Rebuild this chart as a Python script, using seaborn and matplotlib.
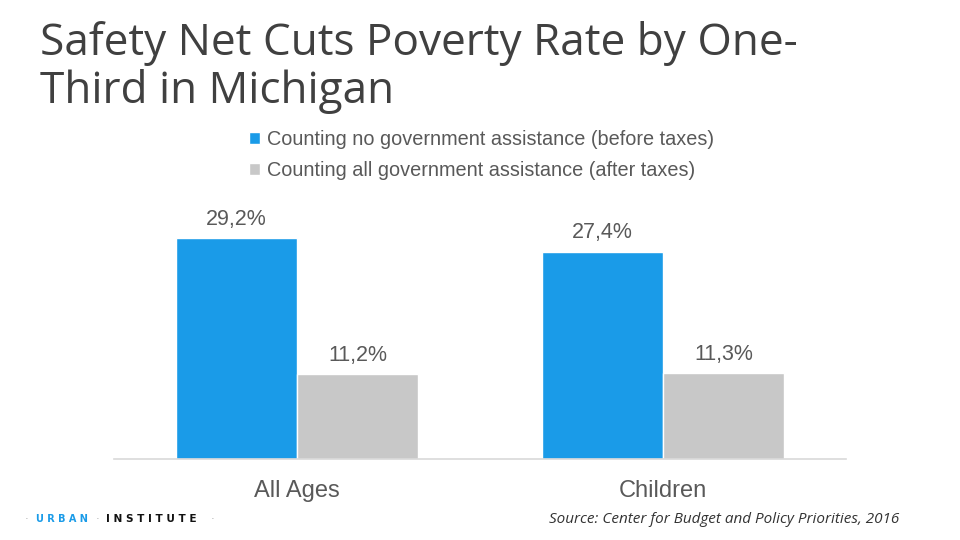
import pandas as pd
import matplotlib.pyplot as plt
import seaborn as sns

categories = ["All Ages", "Children"]
series = ["Counting no government assistance (before taxes)",
          "Counting all government assistance (after taxes)"]
before_taxes = [29.2, 27.4]
after_taxes = [11.2, 11.3]

colors = ["#1A9BE8", "#C8C8C8"]

df = pd.DataFrame({
    "group": categories * 2,
    "series": [series[0]] * 2 + [series[1]] * 2,
    "rate": before_taxes + after_taxes,
})

sns.set_theme(style="white")
plt.rcParams["font.family"] = ["Liberation Sans", "DejaVu Sans"]

fig = plt.figure(figsize=(9.6, 5.4), dpi=100)
ax = fig.add_axes([114 / 960, 81 / 540, 732 / 960, 227 / 540])

sns.barplot(data=df, x="group", y="rate", hue="series", order=categories,
            hue_order=series, palette=colors, width=0.66, saturation=1,
            ax=ax, legend=True)

ax.set_xlim(-0.5, 1.5)
ax.set_ylim(0, 30)
ax.set_xlabel("")
ax.set_ylabel("")
ax.set_yticks([])
for s in ["top", "left", "right"]:
    ax.spines[s].set_visible(False)
ax.spines["bottom"].set_color("#D9D9D9")
ax.spines["bottom"].set_linewidth(1.2)
ax.tick_params(axis="x", length=0, pad=15, labelsize=17, labelcolor="#595959")

# data labels
for cont in ax.containers:
    labels = [f"{v:.1f}%".replace(".", ",") for v in cont.datavalues]
    ax.bar_label(cont, labels=labels, padding=6, fontsize=15.5, color="#595959",
                 clip_on=False)

# legend at top
handles, labels = ax.get_legend_handles_labels()
ax.get_legend().remove()
fig.legend(handles, labels, loc="upper left", bbox_to_anchor=(239 / 960, 1 - 120 / 540),
           frameon=False, fontsize=14.3, labelcolor="#595959", handlelength=0.55,
           handleheight=0.55, handletextpad=0.35, labelspacing=0.6, borderpad=0)

fig.text(40 / 960, 1 - 21 / 540, "Safety Net Cuts Poverty Rate by One-\nThird in Michigan",
         fontsize=31.8, color="#404040", family=["Open Sans", "DejaVu Sans"],
         va="top", linespacing=1.08)

fig.text(549 / 960, 1 - 523 / 540, "Source: Center for Budget and Policy Priorities, 2016",
         fontsize=11, style="italic", color="#333333",
         family=["Open Sans", "DejaVu Sans"])

# logo
fig.text(25 / 960, 1 - 522 / 540, "·", fontsize=8, color="#9A9A9A")
fig.text(36 / 960, 1 - 522 / 540, "U R B A N", fontsize=7, fontweight="bold",
         color="#1A9BE8", family=["DejaVu Sans"])
fig.text(96 / 960, 1 - 522 / 540, "·", fontsize=8, color="#9A9A9A")
fig.text(106 / 960, 1 - 522 / 540, "I N S T I T U T E", fontsize=7.6, fontweight="bold",
         color="#111111", family=["DejaVu Sans"])
fig.text(211 / 960, 1 - 522 / 540, "·", fontsize=8, color="#9A9A9A")

fig.savefig("out.png", dpi=100)
